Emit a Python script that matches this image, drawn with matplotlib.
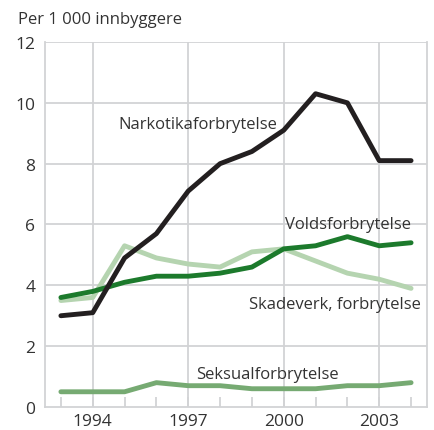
import numpy as np
import matplotlib.pyplot as plt

plt.rcParams['font.family'] = ['Open Sans', 'DejaVu Sans']

years = list(range(1993, 2005))
narkotika = [3.0, 3.1, 4.9, 5.7, 7.1, 8.0, 8.4, 9.1, 10.3, 10.0, 8.1, 8.1]
volds = [3.6, 3.8, 4.1, 4.3, 4.3, 4.4, 4.6, 5.2, 5.3, 5.6, 5.3, 5.4]
skadeverk = [3.5, 3.6, 5.3, 4.9, 4.7, 4.6, 5.1, 5.2, 4.8, 4.4, 4.2, 3.9]
seksual = [0.5, 0.5, 0.5, 0.8, 0.7, 0.7, 0.6, 0.6, 0.6, 0.7, 0.7, 0.8]
labelled_years = [1994, 1997, 2000, 2003]

grid_col = '#d2d3d5'
text_col = '#333333'

fig = plt.figure(figsize=(4.35, 4.31), dpi=100)
ax = fig.add_axes([0.1034, 0.0534, 0.8782, 0.8468])

ax.plot(years, skadeverk, color='#b5d4b0', lw=3.5, solid_capstyle='round', zorder=3)
ax.plot(years, seksual, color='#76aa72', lw=3.5, solid_capstyle='round', zorder=3)
ax.plot(years, volds, color='#1c7a2c', lw=3.5, solid_capstyle='round', zorder=4)
ax.plot(years, narkotika, color='#231f20', lw=3.5, solid_capstyle='round', zorder=5)

ax.set_xlim(1992.5, 2004.5)
ax.set_ylim(0, 12)
ax.set_yticks(range(0, 13, 2))
ax.set_xticks(years)
ax.set_xticklabels([str(y) if y in labelled_years else '' for y in years])

# vertical grid only at the labelled years
for y in labelled_years:
    ax.axvline(y, color=grid_col, lw=1.3, zorder=1)
for v in range(2, 13, 2):
    ax.axhline(v, color=grid_col, lw=1.3, zorder=1)

for side in ['left', 'bottom', 'right']:
    ax.spines[side].set_color(grid_col)
    ax.spines[side].set_linewidth(1.3)
ax.spines['top'].set_visible(False)

ax.tick_params(axis='x', direction='in', length=7, width=1.3, color=grid_col,
               labelsize=12.5, labelcolor=text_col, pad=4)
ax.tick_params(axis='y', length=0, labelsize=12.5, labelcolor=text_col, pad=7)

lab = dict(fontsize=12, color=text_col, zorder=6)
ax.text(1994.8, 9.3, 'Narkotikaforbrytelse', ha='left', va='center', **lab)
ax.text(2004.0, 6.0, 'Voldsforbrytelse', ha='right', va='center', **lab)
ax.text(2004.3, 3.4, 'Skadeverk, forbrytelse', ha='right', va='center', **lab)
ax.text(1997.25, 1.1, 'Seksualforbrytelse', ha='left', va='center', **lab)

fig.text(18 / 435, 1 - 20 / 431, 'Per 1 000 innbyggere', ha='left', va='center',
         fontsize=12, color=text_col)

fig.savefig('out.png', dpi=100)
